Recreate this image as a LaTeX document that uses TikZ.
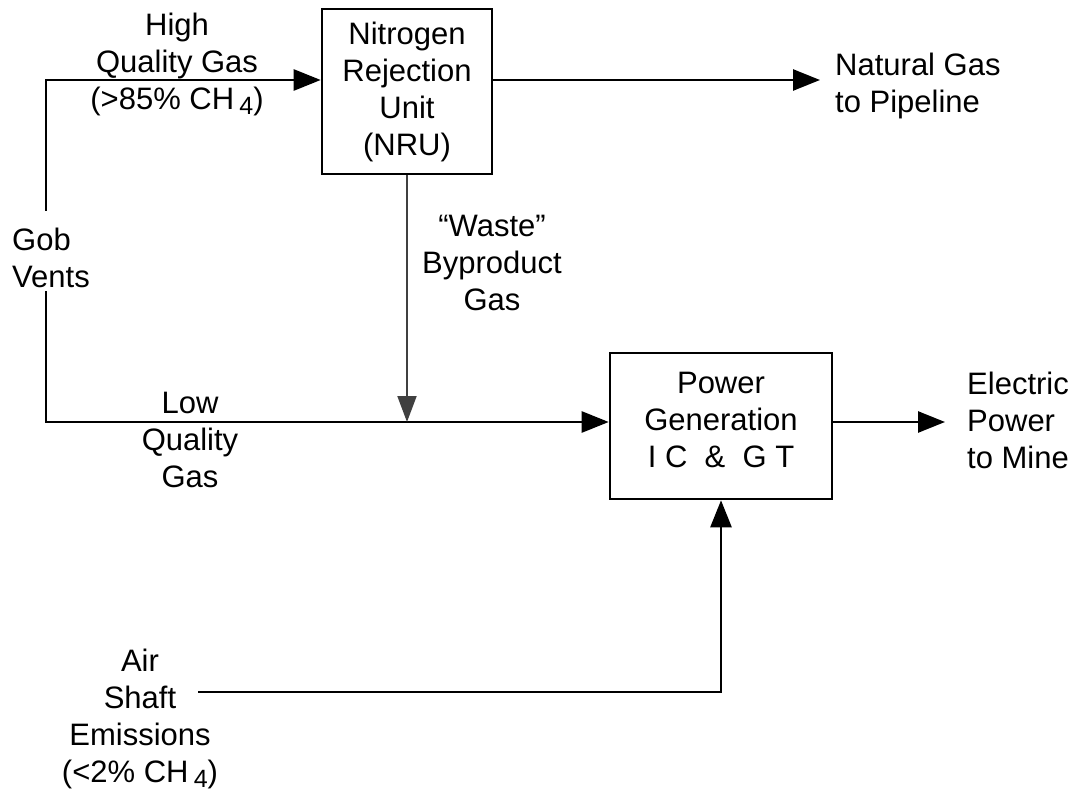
\documentclass[tikz,border=0pt]{standalone}
\usepackage{fontspec}
\setmainfont{Liberation Sans}
\usepackage{xcolor}
\usepackage{tikz}
\usetikzlibrary{arrows.meta,positioning,calc}
\definecolor{gsink}{HTML}{000000}
\definecolor{gswaste}{HTML}{404040}
\newcommand{\gasfont}{\fontsize{31}{37}\selectfont}
\newcommand{\chfour}{\,\raisebox{-0.17em}{\fontsize{25}{25}\selectfont 4}}
\tikzset{
  procbox/.style={rectangle,draw=gsink,line width=2.6pt,inner sep=0pt,
                  align=center,font=\gasfont,text=gsink},
  txt/.style={inner sep=0pt,align=center,font=\gasfont,text=gsink},
  flow/.style={-{Triangle[length=27pt,width=21pt]},line width=2.6pt,draw=gsink},
  waste/.style={-{Triangle[length=26pt,width=19pt]},line width=2pt,draw=gswaste},
}
\begin{document}
\begin{tikzpicture}[x=1pt,y=-1pt]
\useasboundingbox (0,0) rectangle (1078,794);
% process units
\node[procbox,minimum width=170pt,minimum height=165pt] (nru) at (407,91.5)
  {Nitrogen\\Rejection\\Unit\\(NRU)};
\node[procbox,minimum width=222pt,minimum height=146pt] (pg) at (721,426)
  {Power\\Generation\\I C\ \ \&\ \ G T\rule[-12pt]{0pt}{0pt}};
% stream labels
\node[txt] (highq) at (177,64.5) {High\\Quality Gas\\(>85\% CH\chfour)};
\node[txt,anchor=west,align=left] (gob) at (12,258) {Gob\\Vents};
\node[txt] (lowq) at (190,440) {Low\\Quality\\Gas};
\node[txt] (wastelbl) at (492,263) {“Waste”\\Byproduct\\Gas};
\node[txt,anchor=west,align=left,inner xsep=15pt] (natgas) at (820,86)
  {Natural Gas\\to Pipeline};
\node[txt,anchor=west,align=left,inner xsep=22pt] (elec) at (945,420)
  {Electric\\Power\\to Mine};
\node[txt] (air) at (140,719) {Air\\Shaft\\Emissions\\(<2\% CH\chfour)};
% connector ends
\coordinate (gobup) at (46,211);
\coordinate (gobdn) at (46,291);
\coordinate (airout) at (198,692);
\coordinate (nruin) at ([yshift=11.5pt]nru.west);
\coordinate (nruout) at ([yshift=11.5pt]nru.east);
\coordinate (pgin) at ([yshift=4pt]pg.west);
\coordinate (pgout) at ([yshift=4pt]pg.east);
% streams
\draw[flow] (gobup) |- (nruin);
\draw[flow] (nruout) -- (nruout -| natgas.west);
\draw[flow] (gobdn) |- (pgin);
\draw[waste] (nru.south) -- (nru.south |- pgin);
\draw[flow] (pgout) -- (pgout -| elec.west);
\draw[flow] (airout) -| (pg.south);
\end{tikzpicture}
\end{document}
